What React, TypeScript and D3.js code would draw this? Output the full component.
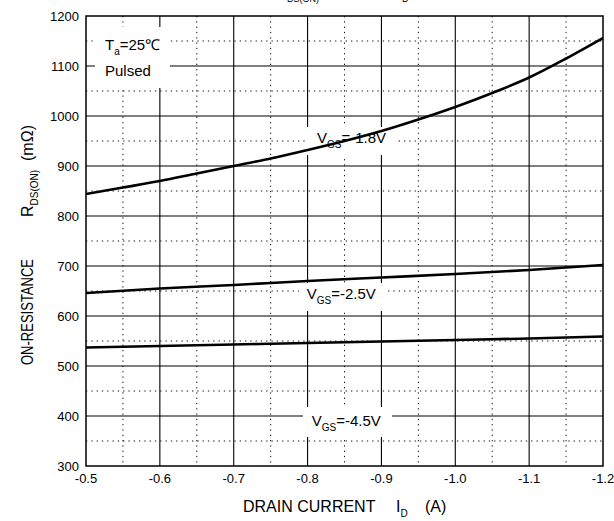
import React from 'react';
import * as d3 from 'd3';

// Drain current (A) sample points
const idFine = [-0.5, -0.55, -0.6, -0.65, -0.7, -0.75, -0.8, -0.85, -0.9, -0.95, -1.0, -1.05, -1.1, -1.15, -1.2];
const idCoarse = [-0.5, -0.6, -0.7, -0.8, -0.9, -1.0, -1.1, -1.2];

// On-resistance (mOhm) per gate voltage
const rdsVgs18 = [844, 857, 870, 885, 900, 915, 932, 950, 970, 993, 1018, 1046, 1077, 1115, 1156];
const rdsVgs25 = [646, 655, 662, 670, 677, 684, 692, 702];
const rdsVgs45 = [537, 540, 543, 546, 549, 552, 555, 559];

const xMajorTicks = [-0.5, -0.6, -0.7, -0.8, -0.9, -1.0, -1.1, -1.2];
const xMinorTicks = [-0.55, -0.65, -0.75, -0.85, -0.95, -1.05, -1.15];
const yMajorTicks = [300, 400, 500, 600, 700, 800, 900, 1000, 1100, 1200];
const yMinorTicks = [350, 450, 550, 650, 750, 850, 950, 1050, 1150];

// curve labels: text anchor + white box, in data units
const curveLabels = [
  { v: '=-1.8V', x: -0.8128, y: 946, box: [-0.7992, -0.9184, 978, 922] },
  { v: '=-2.5V', x: -0.7988, y: 634, box: [-0.7884, -0.9089, 666, 610] },
  { v: '=-4.5V', x: -0.8056, y: 380.6, box: [-0.7938, -0.9143, 418, 358] },
];

const font = "Arial, 'Liberation Sans', Helvetica, sans-serif";

export default function App() {
  const width = 614;
  const height = 521;
  const margin = { top: 16, right: 11, bottom: 55, left: 86 };

  const x = d3.scaleLinear().domain([-0.5, -1.2]).range([margin.left, width - margin.right]);
  const y = d3.scaleLinear().domain([300, 1200]).range([height - margin.bottom, margin.top]);

  const line = d3.line<[number, number]>()
    .x(d => x(d[0]))
    .y(d => y(d[1]))
    .curve(d3.curveMonotoneX);

  const series = [
    d3.zip(idFine, rdsVgs18) as [number, number][],
    d3.zip(idCoarse, rdsVgs25) as [number, number][],
    d3.zip(idCoarse, rdsVgs45) as [number, number][],
  ];

  const [x0, x1] = x.range();
  const [y0, y1] = y.range();

  return (
    <>
      <style>{`body{margin:0}`}</style>
      <svg width={width} height={height} style={{ display: 'block', background: '#fff' }} fontFamily={font}>
        {/* title, cut off at the top edge as in the source */}
        <g fill="#000">
          <text x={275} y={-4} fontSize={16}>R</text>
          <text x={287} y={1.5} fontSize={9}>DS(ON)</text>
          <text x={398} y={-4} fontSize={16}>I</text>
          <text x={402} y={1.5} fontSize={9}>D</text>
        </g>

        {/* minor grid */}
        <g stroke="#111" strokeWidth={1} strokeDasharray="1.3,4">
          {xMinorTicks.map(t => (
            <line key={'xm' + t} x1={x(t)} x2={x(t)} y1={y1} y2={y0} />
          ))}
          {yMinorTicks.map(t => (
            <line key={'ym' + t} x1={x0} x2={x1} y1={y(t)} y2={y(t)} />
          ))}
        </g>

        {/* major grid */}
        <g stroke="#000" strokeWidth={1.1}>
          {xMajorTicks.slice(1, -1).map(t => (
            <line key={'xM' + t} x1={x(t)} x2={x(t)} y1={y1} y2={y0} />
          ))}
          {yMajorTicks.slice(1, -1).map(t => (
            <line key={'yM' + t} x1={x0} x2={x1} y1={y(t)} y2={y(t)} />
          ))}
        </g>

        {/* condition box */}
        <rect x={x(-0.5122)} y={y(1178)} width={x(-0.6137) - x(-0.5122)} height={y(1056) - y(1178)} fill="#fff" />
        <text x={x(-0.5257)} y={y(1132)} fontSize={15} fill="#000">
          T<tspan fontSize={10} dy={5}>a</tspan><tspan dy={-5}>=25℃</tspan>
        </text>
        <text x={x(-0.5257)} y={y(1080)} fontSize={15} fill="#000">Pulsed</text>

        {/* curve label boxes + text */}
        {curveLabels.map(l => (
          <g key={l.v}>
            <rect x={x(l.box[0])} y={y(l.box[2])} width={x(l.box[1]) - x(l.box[0])} height={y(l.box[3]) - y(l.box[2])} fill="#fff" />
            <text x={x(l.x)} y={y(l.y)} fontSize={15} fill="#000">
              V<tspan fontSize={10} dy={5}>GS</tspan><tspan dy={-5}>{l.v}</tspan>
            </text>
          </g>
        ))}

        {/* curves */}
        {series.map((s, i) => (
          <path key={i} d={line(s) || ''} fill="none" stroke="#000" strokeWidth={2.6} />
        ))}

        {/* frame */}
        <rect x={x0} y={y1} width={x1 - x0} height={y0 - y1} fill="none" stroke="#000" strokeWidth={1.5} />

        {/* y tick labels */}
        <g fontSize={13} textAnchor="end" fill="#000">
          {yMajorTicks.map(t => (
            <text key={'yl' + t} x={x0 - 7} y={y(t)} dy="0.35em">{t}</text>
          ))}
        </g>

        {/* x tick labels */}
        <g fontSize={13} textAnchor="middle" fill="#000">
          {xMajorTicks.map(t => (
            <text key={'xl' + t} x={x(t)} y={y0 + 17}>{d3.format('.1f')(t).replace('−', '-')}</text>
          ))}
        </g>

        {/* x axis title */}
        <g fontSize={16} fill="#000">
          <text x={243} y={512}>DRAIN CURRENT</text>
          <text x={396} y={512}>I<tspan fontSize={10} dy={5}>D</tspan></text>
          <text x={425} y={512}>(A)</text>
        </g>

        {/* y axis title */}
        <g fontSize={16} fill="#000">
          <text transform="translate(33,312) rotate(-90)" textAnchor="middle" textLength={106} lengthAdjust="spacingAndGlyphs">ON-RESISTANCE</text>
          <text transform="translate(33,217) rotate(-90)">R<tspan fontSize={10} dy={5}>DS(ON)</tspan></text>
          <text transform="translate(33,143) rotate(-90)" textAnchor="middle">(mΩ)</text>
        </g>
      </svg>
    </>
  );
}
